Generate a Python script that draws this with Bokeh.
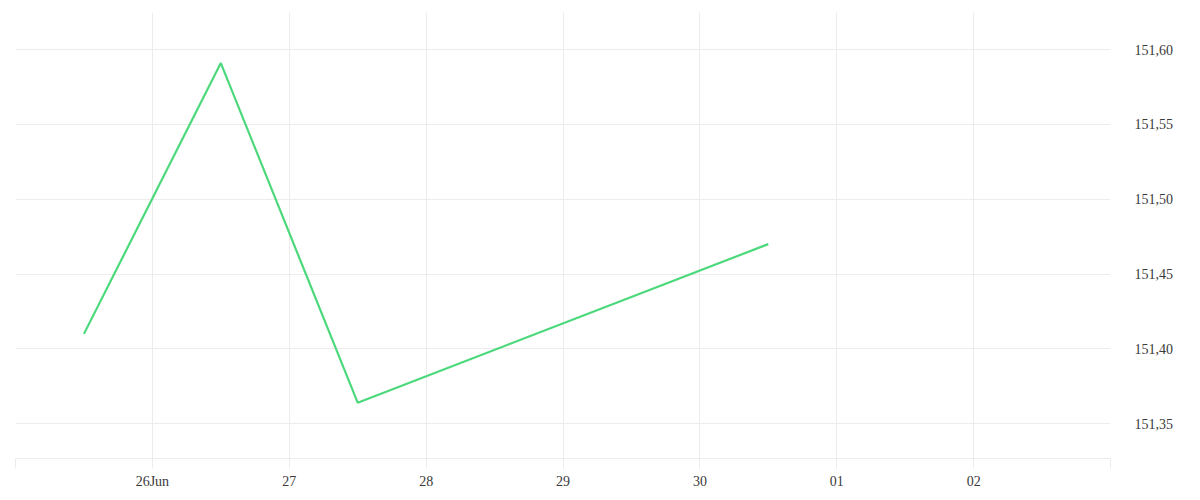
import pandas as pd
from bokeh.plotting import figure
from bokeh.models import FixedTicker, Range1d
from bokeh.embed import file_html
from bokeh.resources import INLINE

# data
dates = ["2024-06-25 12:00", "2024-06-26 12:00", "2024-06-27 12:00", "2024-06-30 12:00"]
values = [151.41, 151.591, 151.364, 151.47]

tick_days = ["2024-06-25", "2024-06-26", "2024-06-27", "2024-06-28", "2024-06-29",
             "2024-06-30", "2024-07-01", "2024-07-02", "2024-07-03"]
tick_day_labels = ["", "26Jun", "27", "28", "29", "30", "01", "02", ""]
y_ticks = [151.35, 151.40, 151.45, 151.50, 151.55, 151.60]
y_tick_labels = ["151,35", "151,40", "151,45", "151,50", "151,55", "151,60"]

x = pd.to_datetime(dates)
tick_ms = [float(pd.Timestamp(d).value // 10**6) for d in tick_days]

p = figure(width=1192, height=492, x_axis_type="datetime", y_axis_location="right",
           output_backend="svg", toolbar_location=None,
           min_border_left=15, min_border_top=12, min_border_right=82, min_border_bottom=34)
p.x_range = Range1d(tick_ms[0], tick_ms[-1])
p.y_range = Range1d(151.3267, 151.6248)
p.outline_line_color = None
p.background_fill_color = "white"
p.border_fill_color = "white"

p.line(x, values, line_color="#4cd97b", line_width=2.2)

grid_col = "#ececec"
xa = p.xaxis[0]
xa.ticker = FixedTicker(ticks=tick_ms, minor_ticks=[])
xa.major_label_overrides = {t: l for t, l in zip(tick_ms, tick_day_labels)}
xa.axis_line_color = grid_col
xa.major_tick_line_color = grid_col
xa.major_tick_in = 0
xa.major_tick_out = 10
xa.minor_tick_line_color = None
xa.major_label_standoff = 5
xa.major_label_text_font = "Liberation Serif"
xa.major_label_text_font_size = "14px"
xa.major_label_text_color = "#3a3a3a"

ya = p.yaxis[0]
ya.ticker = FixedTicker(ticks=y_ticks, minor_ticks=[])
ya.major_label_overrides = {t: l for t, l in zip(y_ticks, y_tick_labels)}
ya.axis_line_color = None
ya.major_tick_line_color = None
ya.minor_tick_line_color = None
ya.major_tick_in = 0
ya.major_tick_out = 0
ya.major_label_standoff = 24
ya.major_label_text_font = "Liberation Serif"
ya.major_label_text_font_size = "14px"
ya.major_label_text_color = "#3a3a3a"

p.xgrid.grid_line_color = grid_col
p.ygrid.grid_line_color = grid_col
p.xgrid.ticker = xa.ticker
p.ygrid.ticker = ya.ticker

open("out.html", "w").write(file_html(p, INLINE))
